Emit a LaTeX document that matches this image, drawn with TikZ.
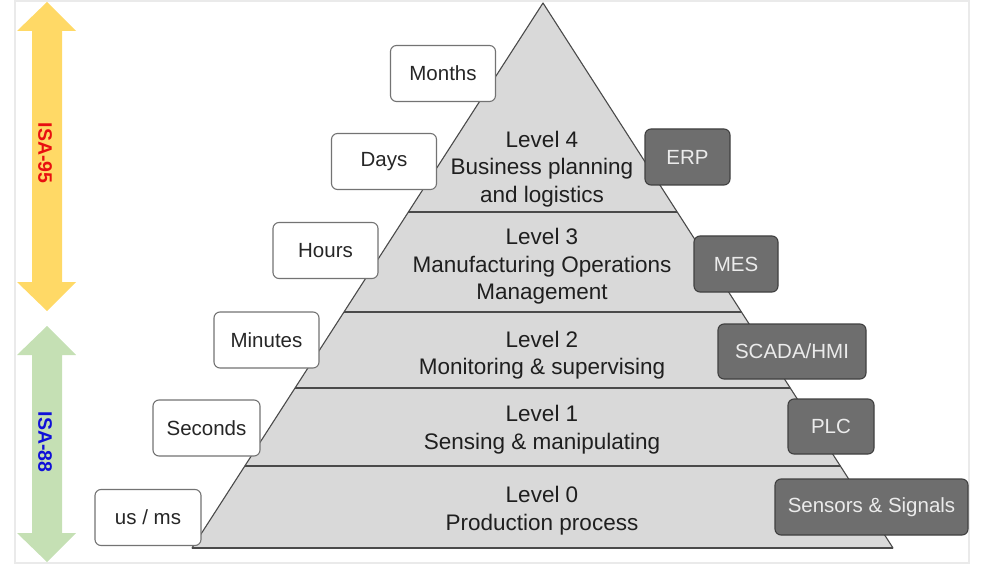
\documentclass[tikz,border=0pt]{standalone}
\usepackage{fontspec}
\setmainfont{Liberation Sans}
\usetikzlibrary{positioning}
\definecolor{isayellow}{HTML}{FFD966}
\definecolor{isagreen}{HTML}{C5E0B4}
\definecolor{isared}{HTML}{E81010}
\definecolor{isablue}{HTML}{1010D8}
\definecolor{pyrfill}{HTML}{D9D9D9}
\definecolor{pyrline}{HTML}{4A4A4A}
\definecolor{sysgray}{HTML}{6E6E6E}
\definecolor{framegray}{HTML}{EAEAEA}
\begin{document}
\begin{tikzpicture}[x=1pt,y=-1pt]
\tikzset{
  timebox/.style={draw=black!55, fill=white, rounded corners=6pt, line width=1.1pt,
    minimum width=105pt, minimum height=56pt, font=\fontsize{20.5}{24}\selectfont, text=black!85},
  sysbox/.style={draw=black!75, fill=sysgray, rounded corners=6pt, line width=1.1pt,
    minimum height=56pt, font=\fontsize{20.5}{24}\selectfont, text=white!92!black},
  leveltext/.style={align=center, font=\fontsize{22.5}{27.5}\selectfont, text=black!88},
  isatext/.style={rotate=-90, font=\bfseries\fontsize{19.5}{22}\selectfont}
}
\useasboundingbox (0,0) rectangle (990,569);
% frame
\draw[framegray, line width=1.5pt] (15,1) rectangle (969,563);
% ISA arrows
\fill[isayellow] (47,2) -- (76,31) -- (62,31) -- (62,282) -- (76,282) -- (47,311)
  -- (17,282) -- (32,282) -- (32,31) -- (17,31) -- cycle;
\fill[isagreen] (47,326) -- (76,355) -- (62,355) -- (62,533) -- (76,533) -- (47,562)
  -- (17,533) -- (32,533) -- (32,355) -- (17,355) -- cycle;
\node[isatext, text=isared] (isa95) at (45,153) {ISA-95};
\node[isatext, text=isablue] (isa88) at (45,442) {ISA-88};
% pyramid
\coordinate (apex) at (543,3);
\coordinate (bl) at (192,548);
\coordinate (br) at (893,548);
\filldraw[fill=pyrfill, draw=pyrline, line width=1.1pt, line join=round] (apex) -- (bl) -- (br) -- cycle;
\begin{scope}
\clip (apex) -- (bl) -- (br) -- cycle;
\foreach \y in {212,312,388,466}
  \draw[pyrline, line width=1.1pt] (150,\y) -- (950,\y);
\end{scope}
\draw[pyrline, line width=2pt] (bl) -- (br);
% levels
\node[leveltext] (lvl4) at (542,169) {Level 4\\Business planning\\and logistics};
\node[leveltext] (lvl3) at (542,266.5) {Level 3\\Manufacturing Operations\\Management};
\node[leveltext] (lvl2) at (542,355) {Level 2\\Monitoring \& supervising};
\node[leveltext] (lvl1) at (542,429.5) {Level 1\\Sensing \& manipulating};
\node[leveltext] (lvl0) at (542,510.5) {Level 0\\Production process};
% time scales
\node[timebox] (months) at (443,73.5) {Months};
\node[timebox] (days) at (384,161.5) {Days};
\node[timebox] (hours) at (325.5,250.5) {Hours};
\node[timebox] (minutes) at (266.5,340) {Minutes};
\node[timebox, minimum width=107pt] (seconds) at (206.5,428) {Seconds};
\node[timebox, minimum width=106pt] (usms) at (148,517.5) {us / ms};
% systems
\node[sysbox, minimum width=85pt] (erp) at (687.5,157) {ERP};
\node[sysbox, minimum width=84pt] (mes) at (736,264) {MES};
\node[sysbox, minimum width=148pt, minimum height=55pt] (scada) at (792,351.5) {SCADA/HMI};
\node[sysbox, minimum width=86pt, minimum height=55pt] (plc) at (831,426.5) {PLC};
\node[sysbox, minimum width=193pt] (sensors) at (871.5,507) {Sensors \& Signals};
\end{tikzpicture}
\end{document}
